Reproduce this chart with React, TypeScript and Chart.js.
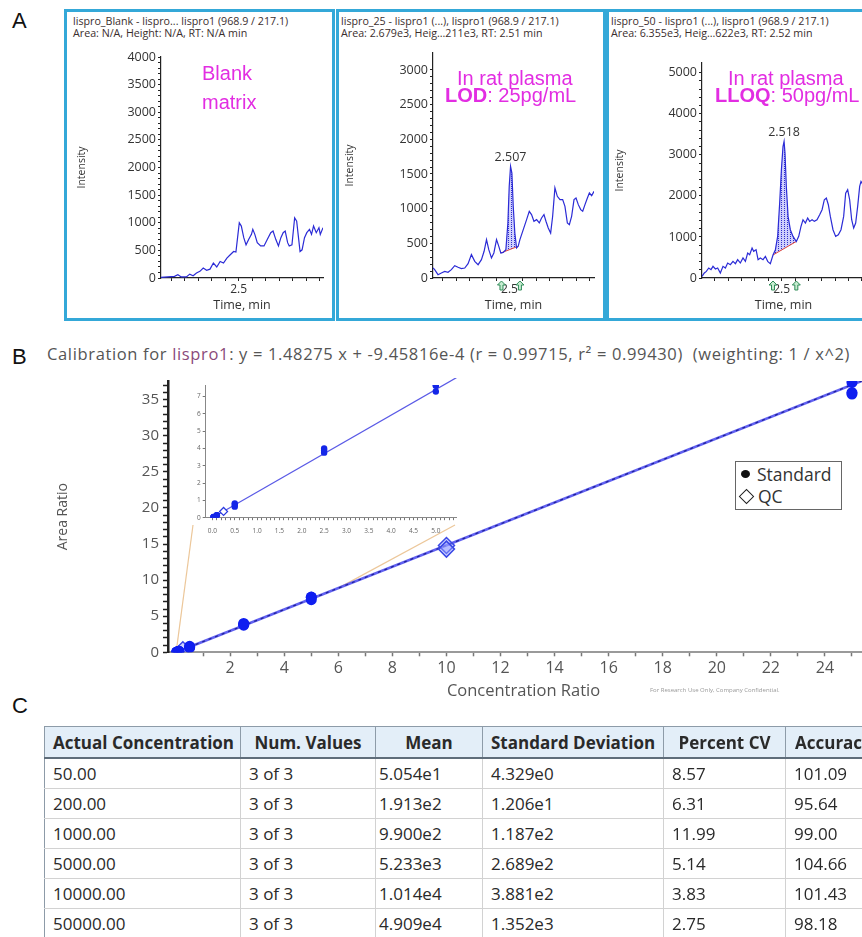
import React, { useEffect, useRef } from 'react';
import { Chart, registerables } from 'chart.js';
Chart.register(...registerables);

const FONT = '"Open Sans", "Noto Sans", sans-serif';
const ARIAL = '"Liberation Sans", Arial, sans-serif';

// ---------------- Panel A data (time min, intensity) ----------------
const BLANK_TRACE: [number, number][] = [
  [1.925, 10], [1.975, 20], [2.025, 30], [2.05, 60], [2.075, 20], [2.113, 20], [2.138, 70], [2.163, 40],
  [2.188, 90], [2.213, 120], [2.238, 180], [2.263, 140], [2.288, 160], [2.313, 270], [2.338, 200],
  [2.363, 300], [2.388, 270], [2.413, 360], [2.438, 420], [2.463, 480], [2.48, 470], [2.495, 790],
  [2.505, 1000], [2.52, 940], [2.538, 730], [2.555, 600], [2.575, 700], [2.595, 790], [2.605, 880],
  [2.62, 790], [2.638, 640], [2.663, 580], [2.688, 580], [2.713, 700], [2.738, 820], [2.755, 850],
  [2.775, 700], [2.795, 580], [2.813, 730], [2.83, 820], [2.845, 850], [2.863, 640], [2.875, 580],
  [2.895, 600], [2.915, 1090], [2.93, 1030], [2.945, 700], [2.955, 480], [2.97, 510], [2.988, 730],
  [3.005, 820], [3.025, 880], [3.04, 790], [3.055, 940], [3.075, 820], [3.095, 910], [3.105, 790], [3.125, 910],
];
const LOD_TRACE: [number, number][] = [
  [1.928, 144], [1.94, 120], [1.965, 48], [1.99, 72], [2.015, 96], [2.04, 82], [2.065, 120], [2.09, 178],
  [2.115, 154], [2.14, 135], [2.165, 144], [2.19, 207], [2.215, 337], [2.24, 240], [2.265, 192], [2.29, 265],
  [2.31, 385], [2.328, 553], [2.345, 409], [2.365, 289], [2.383, 361], [2.403, 553], [2.42, 457], [2.435, 361],
  [2.453, 370], [2.473, 409], [2.488, 794], [2.498, 1323], [2.508, 1611], [2.518, 1515], [2.528, 1034],
  [2.54, 649], [2.553, 433], [2.565, 457], [2.578, 553], [2.603, 697], [2.628, 842], [2.648, 962], [2.665, 914],
  [2.683, 818], [2.703, 842], [2.723, 794], [2.74, 866], [2.758, 914], [2.773, 818], [2.79, 722], [2.808, 649],
  [2.823, 890], [2.84, 1299], [2.858, 1178], [2.878, 1130], [2.898, 1130], [2.915, 1034], [2.933, 794],
  [2.948, 770], [2.965, 890], [2.983, 1130], [2.998, 1154], [3.015, 1058], [3.033, 986], [3.048, 962],
  [3.065, 1058], [3.083, 1154], [3.098, 1226], [3.115, 1188], [3.133, 1250],
];
const LLOQ_TRACE: [number, number][] = [
  [1.903, 41], [1.92, 122], [1.935, 162], [1.953, 243], [1.97, 203], [1.985, 284], [2.003, 219], [2.02, 243],
  [2.04, 122], [2.06, 284], [2.078, 243], [2.095, 365], [2.115, 324], [2.135, 405], [2.153, 349], [2.17, 446],
  [2.19, 365], [2.21, 487], [2.228, 405], [2.245, 608], [2.26, 568], [2.278, 730], [2.29, 649], [2.308, 689],
  [2.323, 446], [2.34, 487], [2.36, 446], [2.378, 527], [2.395, 405], [2.415, 349], [2.435, 560], [2.453, 689],
  [2.47, 1014], [2.485, 1825], [2.498, 2636], [2.51, 3203], [2.518, 3325], [2.525, 3041], [2.535, 2230],
  [2.548, 1500], [2.565, 1176], [2.585, 1014], [2.61, 890], [2.628, 1014], [2.645, 1257], [2.66, 1419],
  [2.678, 1338], [2.695, 1460], [2.71, 1379], [2.728, 1419], [2.745, 1379], [2.765, 1419], [2.785, 1541],
  [2.803, 1663], [2.82, 1906], [2.835, 1946], [2.85, 1784], [2.865, 1500], [2.885, 1176], [2.905, 1014],
  [2.925, 1054], [2.945, 1176], [2.965, 1500], [2.98, 2068], [2.995, 2149], [3.01, 1906], [3.025, 1419],
  [3.04, 1216], [3.055, 1338], [3.07, 1744], [3.085, 2230], [3.095, 2352], [3.105, 2300], [3.12, 2150],
];
const LOD_BASELINE: [number, number][] = [[2.435, 361], [2.565, 457]];
const LLOQ_BASELINE: [number, number][] = [[2.435, 560], [2.61, 890]];
const LOD_ARROWS = [2.44, 2.578];
const LLOQ_ARROWS = [2.435, 2.61];
const CHROM_X_TICKS = [1.9, 2.0, 2.1, 2.2, 2.3, 2.4, 2.5, 2.6, 2.7, 2.8, 2.9, 3.0, 3.1];
const CHROM_X_LABEL = 2.5;
const BLANK_Y_TICKS = [0, 500, 1000, 1500, 2000, 2500, 3000, 3500, 4000];
const LOD_Y_TICKS = [0, 500, 1000, 1500, 2000, 2500, 3000];
const LLOQ_Y_TICKS = [0, 1000, 2000, 3000, 4000, 5000];

// ---------------- Panel B data ----------------
const SLOPE = 1.48275;
const INTERCEPT = -9.45816e-4;
const STD_CONC_RATIO = [0.025, 0.025, 0.025, 0.1, 0.1, 0.1, 0.5, 0.5, 0.5, 2.5, 2.5, 2.5, 5, 5, 5, 25, 25, 25];
const STD_AREA_RATIO = [0.035, 0.041, 0.037, 0.15, 0.13, 0.145, 0.83, 0.73, 0.64, 4.0, 3.88, 3.76, 7.65, 7.62, 7.29, 37.4, 35.8, 36.0];
const QC_CONC_RATIO = [0.25, 10, 10];
const QC_AREA_RATIO = [0.36, 14.8, 14.3];
const B_X_LABELS = [2, 4, 6, 8, 10, 12, 14, 16, 18, 20, 22, 24];
const B_Y_LABELS = [0, 5, 10, 15, 20, 25, 30, 35];
const INSET_X_LABELS = [0, 0.5, 1, 1.5, 2, 2.5, 3, 3.5, 4, 4.5, 5];
const INSET_Y_LABELS = [0, 1, 2, 3, 4, 5, 6, 7];
const ZOOM_RANGE = [0, 6];

// ---------------- Panel C data ----------------
const TABLE_HEADERS = ['Actual Concentration', 'Num. Values', 'Mean', 'Standard Deviation', 'Percent CV', 'Accuracy'];
const ACTUAL_CONC = ['50.00', '200.00', '1000.00', '5000.00', '10000.00', '50000.00'];
const NUM_VALUES = ['3 of 3', '3 of 3', '3 of 3', '3 of 3', '3 of 3', '3 of 3'];
const MEAN_VALUES = ['5.054e1', '1.913e2', '9.900e2', '5.233e3', '1.014e4', '4.909e4'];
const SD_VALUES = ['4.329e0', '1.206e1', '1.187e2', '2.689e2', '3.881e2', '1.352e3'];
const CV_VALUES = ['8.57', '6.31', '11.99', '5.14', '3.83', '2.75'];
const ACCURACY_VALUES = ['101.09', '95.64', '99.00', '104.66', '101.43', '98.18'];

// ---------------- layout ----------------
const MAIN = { left: 45, top: 368, width: 845, height: 337 };
const INSET = { left: 195, top: 378, width: 267, height: 160 };
const COL_W = [196, 135, 107, 181, 122, 98];

function range(from: number, to: number, step: number) {
  const out: number[] = [];
  for (let i = 0; from + i * step <= to + 1e-9; i++) out.push(+(from + i * step).toFixed(6));
  return out;
}

function makePattern(canvas: HTMLCanvasElement) {
  const p = document.createElement('canvas');
  p.width = 3; p.height = 2;
  const g = p.getContext('2d')!;
  g.fillStyle = 'rgba(175,175,250,0.6)';
  g.fillRect(0, 0, 3, 2);
  g.fillStyle = 'rgba(40,40,200,0.95)';
  g.fillRect(1, 0, 1, 1);
  return canvas.getContext('2d')!.createPattern(p, 'repeat');
}

const peakMarks = {
  id: 'peakMarks',
  afterDatasetsDraw(chart: any, _a: any, opts: any) {
    if (!opts || !opts.apex) return;
    const { ctx, scales, chartArea } = chart;
    const x = scales.x, y = scales.y;
    ctx.save();
    ctx.font = `12.5px ${FONT}`;
    ctx.fillStyle = '#333';
    ctx.textAlign = 'center';
    ctx.textBaseline = 'bottom';
    ctx.fillText(opts.label, x.getPixelForValue(opts.apex[0]), y.getPixelForValue(opts.apex[1]) - 3);
    for (const t of opts.arrows) {
      const px = x.getPixelForValue(t);
      const top = chartArea.bottom + 3;
      ctx.beginPath();
      ctx.moveTo(px, top);
      ctx.lineTo(px + 4, top + 4);
      ctx.lineTo(px + 1.5, top + 4);
      ctx.lineTo(px + 1.5, top + 9);
      ctx.lineTo(px - 1.5, top + 9);
      ctx.lineTo(px - 1.5, top + 4);
      ctx.lineTo(px - 4, top + 4);
      ctx.closePath();
      ctx.fillStyle = '#c6ecd0';
      ctx.fill();
      ctx.strokeStyle = '#2e8b57';
      ctx.lineWidth = 1;
      ctx.stroke();
    }
    ctx.restore();
  },
};

type ChromSpec = {
  trace: [number, number][];
  xMin: number; xMax: number; yMax: number;
  yTicks: number[]; yMinor: number;
  yAxisWidth: number; padTop: number; padRight: number; titlePad: number;
  baseline?: [number, number][]; rt?: string; arrows?: number[];
};

function chromConfig(spec: ChromSpec, canvas: HTMLCanvasElement): any {
  const datasets: any[] = [{
    data: spec.trace.map(([x, y]) => ({ x, y })),
    borderColor: '#2b2bd6', borderWidth: 1.2, pointRadius: 0, tension: 0, fill: false,
  }];
  let marks: any = {};
  if (spec.baseline) {
    const [b0, b1] = spec.baseline;
    const inPeak = spec.trace.filter(([t]) => t >= b0[0] - 1e-9 && t <= b1[0] + 1e-9);
    const apex = inPeak.reduce((a, b) => (b[1] > a[1] ? b : a));
    datasets.push({
      data: spec.baseline.map(([x, y]) => ({ x, y })),
      borderColor: '#e0453a', borderWidth: 1, pointRadius: 0, fill: false,
    });
    datasets.push({
      data: inPeak.map(([x, y]) => ({ x, y })),
      borderWidth: 0, borderColor: 'rgba(0,0,0,0)', pointRadius: 0, fill: 1,
      backgroundColor: makePattern(canvas),
    });
    marks = { apex, label: spec.rt, arrows: spec.arrows };
  }
  const yVals = range(0, spec.yTicks[spec.yTicks.length - 1], spec.yMinor);
  return {
    type: 'line',
    data: { datasets },
    plugins: [peakMarks],
    options: {
      animation: false, responsive: false, devicePixelRatio: 1,
      layout: { padding: { top: spec.padTop, right: spec.padRight, left: 0, bottom: 0 } },
      plugins: { legend: { display: false }, tooltip: { enabled: false }, peakMarks: marks },
      scales: {
        x: {
          type: 'linear', min: spec.xMin, max: spec.xMax,
          afterBuildTicks: (s: any) => { s.ticks = CHROM_X_TICKS.filter(v => v >= spec.xMin && v <= spec.xMax).map(v => ({ value: v })); },
          afterFit: (s: any) => { s.height = 38; },
          grid: { drawOnChartArea: false, tickLength: 3, tickColor: '#222', tickWidth: 1 },
          border: { color: '#222', width: 1.2 },
          ticks: {
            autoSkip: false, maxRotation: 0, padding: 1, color: '#333', font: { family: FONT, size: 12 },
            callback: (v: any) => (Math.abs(v - CHROM_X_LABEL) < 1e-6 ? String(CHROM_X_LABEL) : ''),
          },
          title: { display: true, text: 'Time, min', color: '#333', font: { family: FONT, size: 12.5 }, padding: { top: 0, bottom: 3 } },
        },
        y: {
          type: 'linear', min: 0, max: spec.yMax,
          afterBuildTicks: (s: any) => { s.ticks = yVals.map(v => ({ value: v })); },
          afterFit: (s: any) => { s.width = spec.yAxisWidth; },
          grid: { drawOnChartArea: false, tickLength: 3, tickColor: '#222', tickWidth: 1 },
          border: { color: '#222', width: 1.2 },
          ticks: {
            autoSkip: false, padding: 2, color: '#333', font: { family: FONT, size: 12.5 },
            callback: (v: any) => (spec.yTicks.includes(v) ? String(v) : ''),
          },
          title: { display: true, text: 'Intensity', color: '#333', font: { family: FONT, size: 10.5 }, padding: { top: spec.titlePad, bottom: 0 } },
        },
      },
    },
  };
}

const zoomGuides = {
  id: 'zoomGuides',
  beforeDatasetsDraw(chart: any) {
    const { ctx, scales } = chart;
    const x = scales.x, y = scales.y;
    const ay = INSET.top + INSET.height - MAIN.top - 13;
    const anchors = [[INSET.left - MAIN.left - 2, ay], [INSET.left + INSET.width - MAIN.left - 7, ay]];
    ctx.save();
    ctx.strokeStyle = '#ecc79a';
    ctx.lineWidth = 1.2;
    ZOOM_RANGE.forEach((c, i) => {
      ctx.beginPath();
      ctx.moveTo(x.getPixelForValue(c), y.getPixelForValue(SLOPE * c + INTERCEPT));
      ctx.lineTo(anchors[i][0], anchors[i][1]);
      ctx.stroke();
    });
    ctx.restore();
  },
};

function mainConfig(): any {
  const xTicks = range(1, 25, 1);
  const yTicks = range(0, 37, 1);
  return {
    type: 'scatter',
    data: {
      datasets: [
        {
          data: STD_CONC_RATIO.map((x, i) => ({ x, y: STD_AREA_RATIO[i] })),
          pointRadius: 5.5, pointBackgroundColor: '#0f1ef0', pointBorderWidth: 0,
        },
        {
          data: QC_CONC_RATIO.map((x, i) => ({ x, y: QC_AREA_RATIO[i] })),
          pointStyle: 'rectRot', pointRadius: 8, pointBorderColor: '#3a48e6', pointBorderWidth: 1.5,
          pointBackgroundColor: 'rgba(150,160,255,0.45)',
        },
        {
          data: [{ x: 0, y: INTERCEPT }, { x: 26, y: SLOPE * 26 + INTERCEPT }],
          showLine: true, pointRadius: 0, borderColor: '#22229a', borderWidth: 1.3, borderDash: [3, 4],
        },
        {
          data: [{ x: 0, y: INTERCEPT }, { x: 26, y: SLOPE * 26 + INTERCEPT }],
          showLine: true, pointRadius: 0, borderColor: 'rgba(80,80,240,0.9)', borderWidth: 2.6,
        },
      ],
    },
    plugins: [zoomGuides],
    options: {
      animation: false, responsive: false, devicePixelRatio: 1,
      layout: { padding: { top: 10, right: 11, left: 0, bottom: 0 } },
      plugins: { legend: { display: false }, tooltip: { enabled: false } },
      scales: {
        x: {
          type: 'linear', min: -0.3, max: 26,
          afterBuildTicks: (s: any) => { s.ticks = xTicks.map(v => ({ value: v })); },
          afterFit: (s: any) => { s.height = 52.7; },
          grid: { drawOnChartArea: false, tickLength: 4, tickColor: '#777', tickWidth: 1.5 },
          border: { color: '#9a9a9a', width: 2 },
          ticks: {
            autoSkip: false, maxRotation: 0, padding: 3, color: '#555', font: { family: FONT, size: 16 },
            callback: (v: any) => (B_X_LABELS.includes(v) ? String(v) : ''),
          },
          title: { display: true, text: 'Concentration Ratio', color: '#555', font: { family: FONT, size: 16.5 }, padding: { top: 0, bottom: 4 } },
        },
        y: {
          type: 'linear', min: 0, max: 37.6,
          afterBuildTicks: (s: any) => { s.ticks = yTicks.map(v => ({ value: v })); },
          afterFit: (s: any) => { s.width = 123; },
          grid: { drawOnChartArea: false, tickLength: 5, tickColor: '#222', tickWidth: 1.5 },
          border: { color: '#222', width: 2.5 },
          ticks: {
            autoSkip: false, padding: 4, color: '#555', font: { family: FONT, size: 15 },
            callback: (v: any) => (B_Y_LABELS.includes(v) ? String(v) : ''),
          },
          title: { display: true, text: 'Area Ratio', color: '#555', font: { family: FONT, size: 14 }, padding: { top: 9.6, bottom: 0 } },
        },
      },
    },
  };
}

function insetConfig(): any {
  const xTicks = range(0, 5.4, 0.1);
  const xMax = 5.46;
  return {
    type: 'scatter',
    data: {
      datasets: [
        {
          data: STD_CONC_RATIO.filter(c => c <= 5).map((x, i) => ({ x, y: STD_AREA_RATIO[i] })),
          pointRadius: 3.2, pointBackgroundColor: '#1426e8', pointBorderWidth: 0,
        },
        {
          data: QC_CONC_RATIO.map((x, i) => ({ x, y: QC_AREA_RATIO[i] })).filter(p => p.x <= 5),
          pointStyle: 'rectRot', pointRadius: 4, pointBorderColor: '#2a3ae0', pointBorderWidth: 1.2,
          pointBackgroundColor: '#ffffff',
        },
        {
          data: [{ x: 0, y: INTERCEPT }, { x: xMax, y: SLOPE * xMax + INTERCEPT }],
          showLine: true, pointRadius: 0, borderColor: '#5a5ae6', borderWidth: 1.2, clip: false,
        },
      ],
    },
    options: {
      animation: false, responsive: false, devicePixelRatio: 1,
      layout: { padding: { top: 7, right: 5.6, left: 0, bottom: 0 } },
      plugins: { legend: { display: false }, tooltip: { enabled: false } },
      scales: {
        x: {
          type: 'linear', min: -0.15, max: xMax,
          afterBuildTicks: (s: any) => { s.ticks = xTicks.map(v => ({ value: v })); },
          afterFit: (s: any) => { s.height = 20.3; },
          grid: { drawOnChartArea: false, tickLength: 2.5, tickColor: '#777', tickWidth: 1 },
          border: { color: '#888', width: 1 },
          ticks: {
            autoSkip: false, maxRotation: 0, padding: 7, color: '#666', font: { family: FONT, size: 6.5 },
            callback: (v: any) => {
              const hit = INSET_X_LABELS.find(l => Math.abs(l - v) < 1e-6);
              return hit === undefined ? '' : hit.toFixed(1);
            },
          },
        },
        y: {
          type: 'linear', min: 0, max: 7.67,
          afterBuildTicks: (s: any) => { s.ticks = INSET_Y_LABELS.map(v => ({ value: v })); },
          afterFit: (s: any) => { s.width = 10.7; },
          grid: { drawOnChartArea: false, tickLength: 3, tickColor: '#777', tickWidth: 1 },
          border: { color: '#888', width: 1 },
          ticks: { autoSkip: false, padding: 2, color: '#666', font: { family: FONT, size: 6.5 } },
        },
      },
    },
  };
}

function ChartCanvas({ left, top, width, height, build }: { left: number; top: number; width: number; height: number; build: (c: HTMLCanvasElement) => any }) {
  const ref = useRef<HTMLCanvasElement>(null);
  useEffect(() => {
    const c = ref.current!;
    const chart = new Chart(c, build(c));
    return () => chart.destroy();
  }, []);
  return <canvas ref={ref} width={width} height={height} style={{ position: 'absolute', left, top, width, height }} />;
}

const abs = (left: number, top: number, extra: React.CSSProperties = {}): React.CSSProperties => ({
  position: 'absolute', left, top, whiteSpace: 'nowrap', ...extra,
});

const magenta: React.CSSProperties = { fontFamily: ARIAL, fontSize: 20, lineHeight: '20px', color: '#e22de2' };
const header: React.CSSProperties = { fontFamily: FONT, fontSize: 10.7, lineHeight: '10.5px', color: '#3b2e2e' };
const letter: React.CSSProperties = { fontFamily: ARIAL, fontSize: 22, lineHeight: '22px', color: '#111' };

const BOX = { top: 9, height: 312, border: '3px solid #34a8d8' };

export default function App() {
  const rows = ACTUAL_CONC.map((a, i) => [a, NUM_VALUES[i], MEAN_VALUES[i], SD_VALUES[i], CV_VALUES[i], ACCURACY_VALUES[i]]);
  return (
    <div style={{ position: 'absolute', left: 0, top: 0, width: 862, height: 937, overflow: 'hidden', background: '#fff' }}>
      {/* Panel labels */}
      <div style={abs(12, 10, letter)}>A</div>
      <div style={abs(12, 346, letter)}>B</div>
      <div style={abs(12, 695, letter)}>C</div>

      {/* Panel A boxes */}
      {[[64, 271], [336, 270], [606, 270]].map(([l, w], i) => (
        <div key={i} style={{ position: 'absolute', left: l, top: BOX.top, width: w, height: BOX.height, border: BOX.border, boxSizing: 'border-box' }} />
      ))}

      <div style={abs(73, 15.7, header)}>lispro_Blank - lispro... lispro1 (968.9 / 217.1)</div>
      <div style={abs(73, 28.4, header)}>Area: N/A, Height: N/A, RT: N/A min</div>
      <div style={abs(341, 15.7, header)}>lispro_25 - lispro1 (...), lispro1 (968.9 / 217.1)</div>
      <div style={abs(341, 28.4, header)}>Area: 2.679e3, Heig...211e3, RT: 2.51 min</div>
      <div style={abs(611, 15.7, header)}>lispro_50 - lispro1 (...), lispro1 (968.9 / 217.1)</div>
      <div style={abs(611, 28.4, header)}>Area: 6.355e3, Heig...622e3, RT: 2.52 min</div>

      <ChartCanvas left={66} top={40} width={265} height={276} build={c => chromConfig({
        trace: BLANK_TRACE, xMin: 1.925, xMax: 3.125, yMax: 4000, yTicks: BLANK_Y_TICKS, yMinor: 100,
        yAxisWidth: 95, padTop: 17, padRight: 8, titlePad: 9.5,
      }, c)} />
      <ChartCanvas left={339} top={40} width={265} height={276} build={c => chromConfig({
        trace: LOD_TRACE, xMin: 1.9275, xMax: 3.1325, yMax: 3245, yTicks: LOD_Y_TICKS, yMinor: 100,
        yAxisWidth: 94, padTop: 13, padRight: 10, titlePad: 4.5,
        baseline: LOD_BASELINE, rt: '2.507', arrows: LOD_ARROWS,
      }, c)} />
      <ChartCanvas left={609} top={40} width={270} height={276} build={c => chromConfig({
        trace: LLOQ_TRACE, xMin: 1.9025, xMax: 3.125, yMax: 5236, yTicks: LLOQ_Y_TICKS, yMinor: 200,
        yAxisWidth: 93, padTop: 23, padRight: 14, titlePad: 4.5,
        baseline: LLOQ_BASELINE, rt: '2.518', arrows: LLOQ_ARROWS,
      }, c)} />

      <div style={abs(202, 63, magenta)}>Blank</div>
      <div style={abs(202, 92, magenta)}>matrix</div>
      <div style={abs(457, 68, magenta)}>In rat plasma</div>
      <div style={abs(445, 85.4, magenta)}><b>LOD</b>: 25pg/mL</div>
      <div style={abs(728, 68, magenta)}>In rat plasma</div>
      <div style={abs(715, 85.4, magenta)}><b>LLOQ</b>: 50pg/mL</div>

      {/* Panel B */}
      <div style={abs(47, 345.5, { fontFamily: FONT, fontSize: 16.5, lineHeight: '16px', letterSpacing: 0.65, color: '#555' })}>
        Calibration for <span style={{ color: '#8a4a7a' }}>lispro1</span>: y = 1.48275 x + -9.45816e-4 (r = 0.99715, r² = 0.99430)&nbsp;&nbsp;(weighting: 1 / x^2)
      </div>
      <ChartCanvas left={MAIN.left} top={MAIN.top} width={MAIN.width} height={MAIN.height} build={() => mainConfig()} />
      <ChartCanvas left={INSET.left} top={INSET.top} width={INSET.width} height={INSET.height} build={() => insetConfig()} />

      <div style={{ position: 'absolute', left: 735, top: 461, width: 107, height: 49, border: '1.5px solid #666', boxSizing: 'border-box', background: '#fff', fontFamily: FONT, fontSize: 17.5, color: '#333' }}>
        <div style={abs(5, 1, { lineHeight: '22px' })}>
          <span style={{ display: 'inline-block', width: 9, height: 8, borderRadius: '50%', background: '#111', marginRight: 7, verticalAlign: 'middle', position: 'relative', top: -2 }} />
          Standard
        </div>
        <div style={abs(3, 23, { lineHeight: '22px' })}>
          <span style={{ display: 'inline-block', width: 9, height: 9, border: '1.3px solid #222', transform: 'rotate(45deg)', marginRight: 6, marginLeft: 2, verticalAlign: 'middle', position: 'relative', top: -2 }} />
          QC
        </div>
      </div>
      <div style={abs(650, 687, { fontFamily: FONT, fontSize: 6, lineHeight: '6px', color: '#999' })}>For Research Use Only, Company Confidential.</div>

      {/* Panel C */}
      <table style={{ position: 'absolute', left: 44, top: 726, borderCollapse: 'collapse', tableLayout: 'fixed', width: COL_W.reduce((a, b) => a + b, 0), fontFamily: FONT, fontSize: 17, color: '#2a2a2a' }}>
        <colgroup>{COL_W.map((w, i) => <col key={i} style={{ width: w }} />)}</colgroup>
        <thead>
          <tr>
            {TABLE_HEADERS.map((h, i) => (
              <th key={i} style={{ height: 30, padding: i === 5 ? '0 0 0 9px' : '0 8px', background: '#e3eef8', border: '1px solid #8d9ba8', borderBottom: '2px solid #5f6d7a', textAlign: i === 0 || i === 5 ? 'left' : 'center', fontWeight: 700, whiteSpace: 'nowrap', overflow: 'hidden' }}>{h}</th>
            ))}
          </tr>
        </thead>
        <tbody>
          {rows.map((r, ri) => (
            <tr key={ri}>
              {r.map((c, ci) => (
                <td key={ci} style={{ height: 29, padding: ci === 2 ? '0 3px' : '0 8px', borderBottom: '1px solid #d2d2d2', borderRight: '1px solid #d2d2d2', borderLeft: ci === 0 ? '1px solid #8d9ba8' : undefined, whiteSpace: 'nowrap', overflow: 'hidden' }}>{c}</td>
              ))}
            </tr>
          ))}
        </tbody>
      </table>
    </div>
  );
}
